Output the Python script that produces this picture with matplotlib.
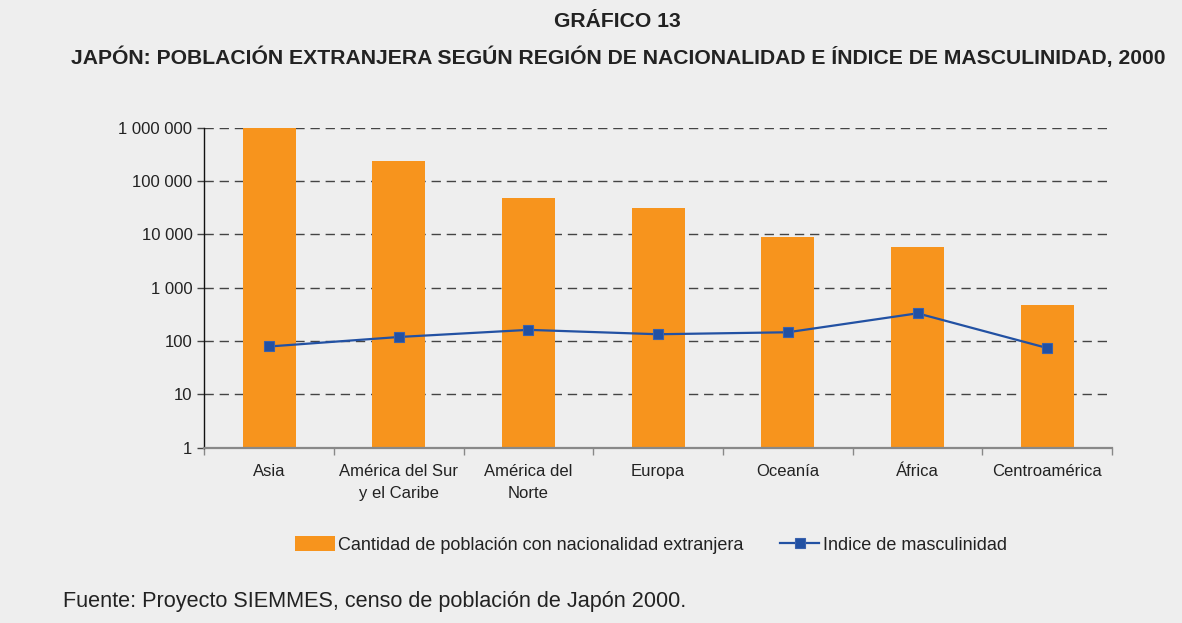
"""Gráfico 13: población extranjera en Japón por región de nacionalidad (2000)."""

import matplotlib
matplotlib.use("Agg")
import matplotlib.pyplot as plt
from matplotlib.ticker import FixedLocator, FuncFormatter

plt.rcParams["font.family"] = ["Liberation Sans", "DejaVu Sans"]
plt.rcParams["lines.scale_dashes"] = False

# Values (log scale).
regions = [
    "Asia",
    "América del Sur\ny el Caribe",
    "América del\nNorte",
    "Europa",
    "Oceanía",
    "África",
    "Centroamérica",
]
population = [1000000, 237000, 48000, 31000, 8900, 5800, 470]
masculinity = [79, 119, 162, 134, 146, 331, 74]
y_ticks = [1, 10, 100, 1000, 10000, 100000, 1000000]

BG = "#eeeeee"
ORANGE = "#f7941d"
BLUE = "#2251a3"
TEXT = "#222222"

fig = plt.figure(figsize=(11.82, 6.23), dpi=100, facecolor=BG)
ax = fig.add_axes([0.1728, 0.2814, 0.7680, 0.5136], facecolor=BG)

x = list(range(len(regions)))
ax.set_yscale("log")
ax.set_ylim(1, 1000000)
ax.set_xlim(-0.5, len(regions) - 0.5)

# dashed horizontal grid behind bars
for t in y_ticks[1:]:
    ax.axhline(t, color="#444444", linewidth=1.0, dashes=(6.7, 4.2), zorder=0)

bars = ax.bar(x, population, width=0.41, color=ORANGE, zorder=2,
              label="Cantidad de población con nacionalidad extranjera")
line, = ax.plot(x, masculinity, color=BLUE, linewidth=1.6, marker="s", markersize=7.5,
                markerfacecolor=BLUE, markeredgecolor="#3a62ad", markeredgewidth=0.8,
                zorder=3, label="Indice de masculinidad")

ax.yaxis.set_major_locator(FixedLocator(y_ticks))
ax.yaxis.set_minor_locator(FixedLocator([]))
ax.yaxis.set_major_formatter(FuncFormatter(lambda v, _: f"{int(round(v)):,}".replace(",", " ")))
ax.tick_params(axis="y", direction="out", length=5, width=1, color="#444444",
               labelsize=12, labelcolor=TEXT, pad=3.5)

ax.set_xticks([i - 0.5 for i in range(len(regions) + 1)])
ax.set_xticklabels([])
ax.set_xticks(x, minor=True)
ax.set_xticklabels(regions, minor=True, fontsize=12, color=TEXT, linespacing=1.6)
ax.tick_params(axis="x", which="major", direction="out", length=5, width=1, color="#888888")
ax.tick_params(axis="x", which="minor", length=0, pad=11.5)

for side in ("top", "right"):
    ax.spines[side].set_visible(False)
ax.spines["left"].set_color("#111111")
ax.spines["left"].set_linewidth(1.0)
ax.spines["bottom"].set_color("#888888")
ax.spines["bottom"].set_linewidth(1.6)

fig.legend([bars, line], [bars.get_label(), line.get_label()],
           loc="center", bbox_to_anchor=(651 / 1182, 1 - 545 / 623), ncol=2,
           frameon=False, fontsize=13, handlelength=2.2, handleheight=0.85,
           handletextpad=0.2, columnspacing=2.0, labelcolor=TEXT)

fig.text(0.5224, 0.9647, "GRÁFICO 13", ha="center", va="center",
         fontsize=15.2, fontweight="bold", color=TEXT)
fig.text(0.5228, 0.9085,
         "JAPÓN: POBLACIÓN EXTRANJERA SEGÚN REGIÓN DE NACIONALIDAD E ÍNDICE DE MASCULINIDAD, 2000",
         ha="center", va="center", fontsize=15.2, fontweight="bold", color=TEXT)
fig.text(0.0533, 1 - 602 / 623, "Fuente: Proyecto SIEMMES, censo de población de Japón 2000.",
         ha="left", va="center", fontsize=15.6, color=TEXT)

fig.savefig("out.png", dpi=100, facecolor=BG)
